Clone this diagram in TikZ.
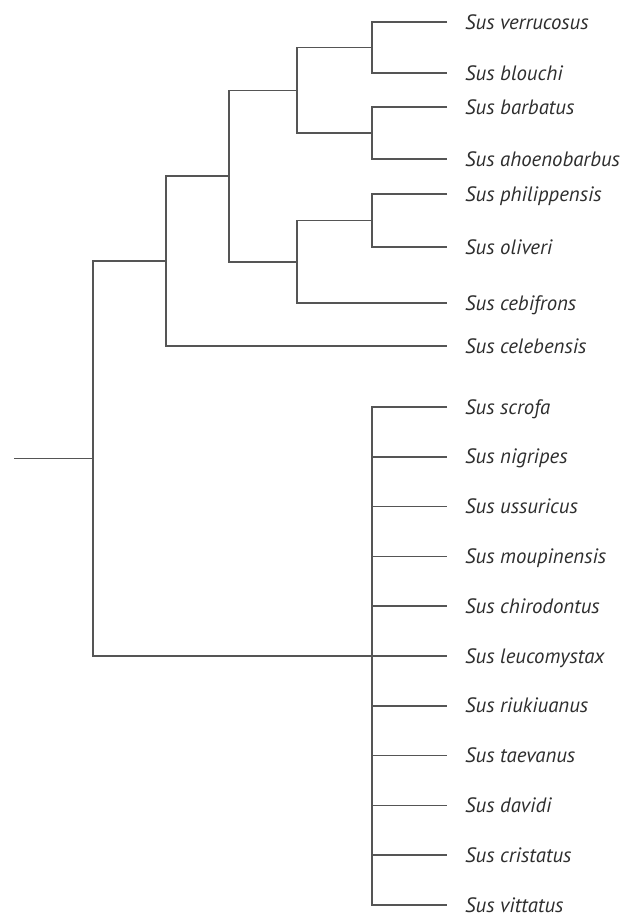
\documentclass[tikz,border=0pt]{standalone}
\usepackage{fontspec}
\setmainfont{PT Sans}
\definecolor{branch}{HTML}{555555}
\definecolor{taxon}{HTML}{2E2E2E}
\tikzset{
  leaf/.style={anchor=west, inner xsep=18pt, inner ysep=0pt, text height=14pt, text depth=0pt,
    font=\fontsize{20.8}{22}\selectfont\itshape, text=taxon},
  edge/.style={draw=branch, line width=1.5pt}
}
\begin{document}
\begin{tikzpicture}[x=1pt,y=-1pt]
\useasboundingbox (0,0) rectangle (625,916);

% taxa
\node[leaf] (verr) at (447,22)  {Sus verrucosus};
\node[leaf] (blou) at (447,73)  {Sus blouchi};
\node[leaf] (barb) at (447,107) {Sus barbatus};
\node[leaf] (ahoe) at (447,159) {Sus ahoenobarbus};
\node[leaf] (phil) at (447,194) {Sus philippensis};
\node[leaf] (oliv) at (447,247) {Sus oliveri};
\node[leaf] (cebi) at (447,303) {Sus cebifrons};
\node[leaf] (cele) at (447,346) {Sus celebensis};
\foreach \name/\lab [count=\i from 0] in {scro/scrofa, nigr/nigripes, ussu/ussuricus,
    moup/moupinensis, chir/chirodontus, leuc/leucomystax, riuk/riukiuanus,
    taev/taevanus, davi/davidi, cris/cristatus, vitt/vittatus}
  \node[leaf] (\name) at (447,{407+49.8*\i}) {Sus \lab};

% internal nodes
\coordinate (n1) at (372,47.5);
\coordinate (n2) at (372,133);
\coordinate (n3) at (297,90.25);
\coordinate (n4) at (372,220.5);
\coordinate (n5) at (297,261.75);
\coordinate (n6) at (229,176);
\coordinate (n7) at (166,261);
\coordinate (n8) at (372,656);
\coordinate (root) at (93,458.5);
\coordinate (stem) at (14,458.5);

% branches
\draw[edge] (verr.west) -| (n1) |- (blou.west);
\draw[edge] (barb.west) -| (n2) |- (ahoe.west);
\draw[edge] (n1) -| (n3) |- (n2);
\draw[edge] (phil.west) -| (n4) |- (oliv.west);
\draw[edge] (n4) -| (n5) |- (cebi.west);
\draw[edge] (n3) -| (n6) |- (n5);
\draw[edge] (n6) -| (n7) |- (cele.west);
\draw[edge] (scro.west) -| (n8) |- (vitt.west);
\foreach \name in {nigr,ussu,moup,chir,leuc,riuk,taev,davi,cris}
  \draw[edge] (\name.west -| n8) -- (\name.west);
\draw[edge] (n7) -| (root) |- (n8);
\draw[edge] (stem) -- (root);
\end{tikzpicture}
\end{document}
